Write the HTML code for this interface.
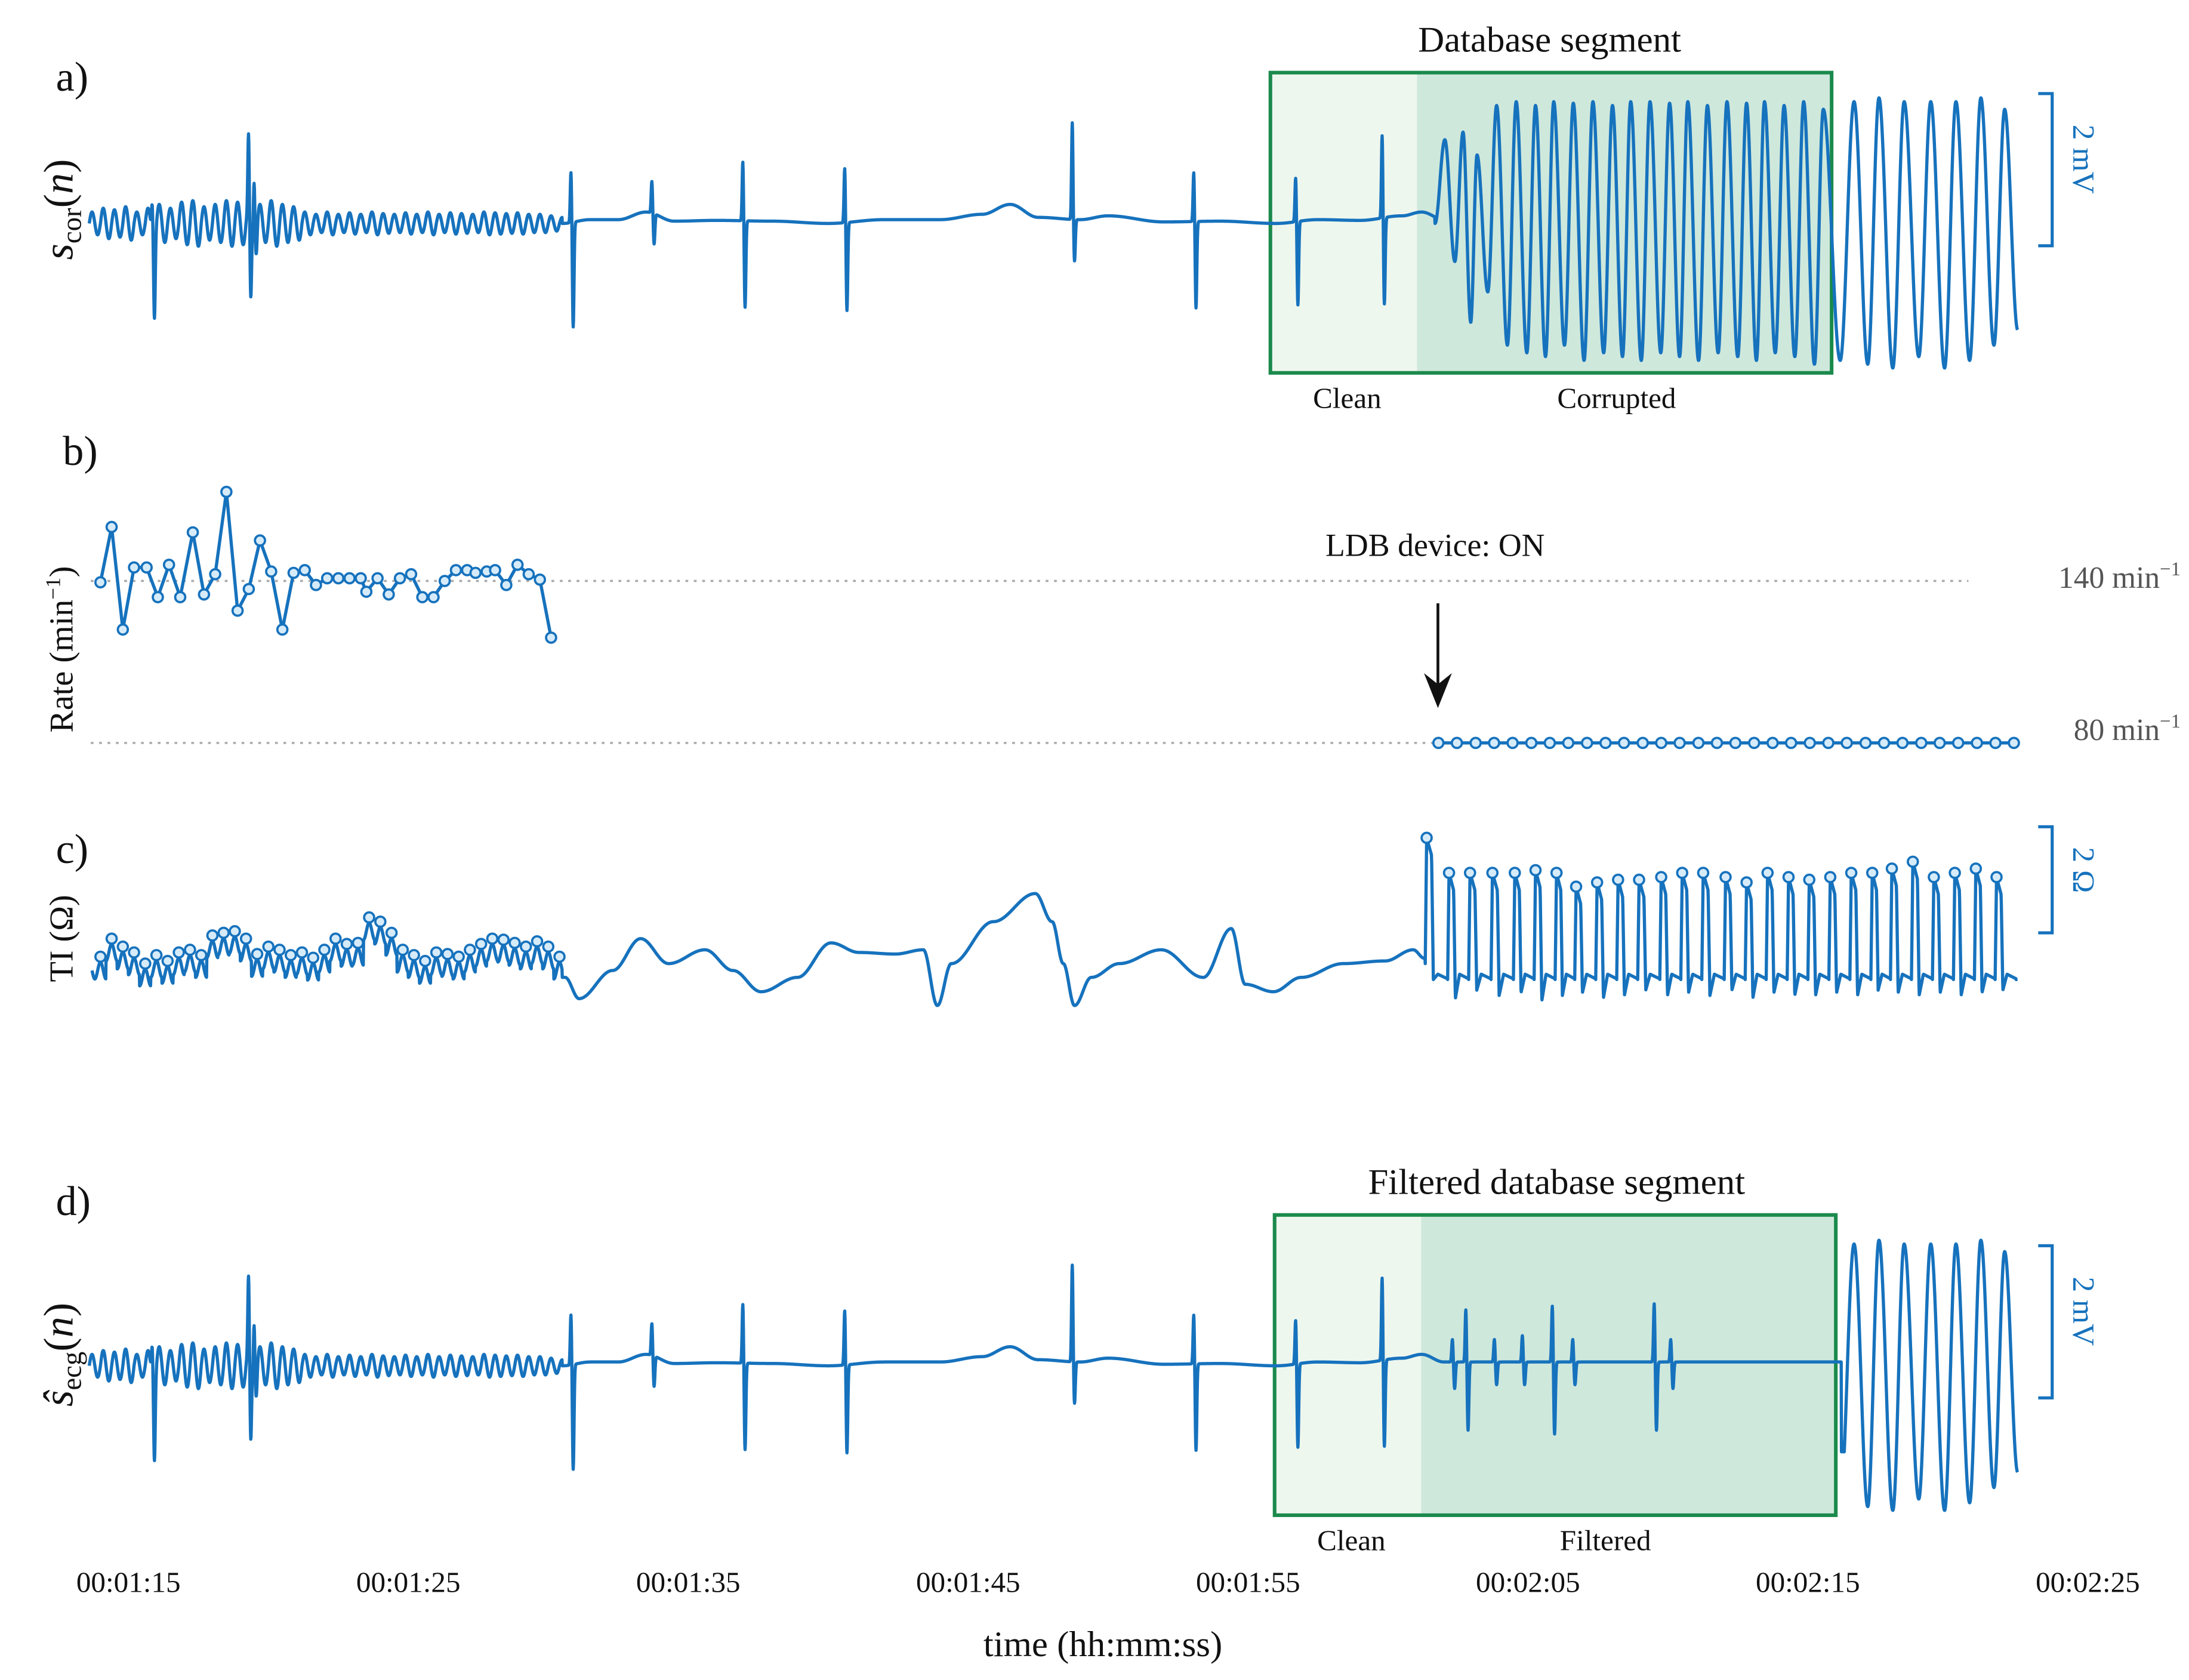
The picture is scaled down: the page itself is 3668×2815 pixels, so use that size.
<!DOCTYPE html>
<html><head><meta charset="utf-8">
<style>
html,body{margin:0;padding:0;background:#fff;}
svg{display:block;}
text{font-family:"Liberation Serif",serif;fill:#111;}
</style></head>
<body>
<svg id="chart" width="3668" height="2815" viewBox="0 0 1568 1203" preserveAspectRatio="none" xmlns="http://www.w3.org/2000/svg">
  <g>
    <rect x="910" y="52" width="105" height="215" fill="#eef7ee"/>
    <rect x="1015" y="52" width="297" height="215" fill="#cfe8dc"/>
    <rect x="910" y="52" width="402" height="215" fill="none" stroke="#1b8a4c" stroke-width="2.6"/>
  </g>
  <g>
    <rect x="913" y="870" width="105" height="215" fill="#eef7ee"/>
    <rect x="1018" y="870" width="297" height="215" fill="#cfe8dc"/>
    <rect x="913" y="870" width="402" height="215" fill="none" stroke="#1b8a4c" stroke-width="2.6"/>
  </g>
  <g id="plots"></g>
  <line x1="65" y1="416" x2="1410" y2="416" stroke="#aaa" stroke-width="1.5" stroke-dasharray="2,4"/>
  <line x1="65" y1="532" x2="1440" y2="532" stroke="#aaa" stroke-width="1.5" stroke-dasharray="2,4"/>
  <g id="ratePlot"></g>
  <g stroke="#1672bd" stroke-width="2.2" fill="none">
    <path d="M1460 67 H1470 V176 H1460"/>
  </g>
  <text x="1478" y="121" font-size="22" style="fill:#1672bd" transform="rotate(90 1485 121)" text-anchor="middle">2 mV</text>
  <g stroke="#1672bd" stroke-width="2.2" fill="none">
    <path d="M1460 592 H1470 V668 H1460"/>
  </g>
  <text x="1478" y="630" font-size="22" style="fill:#1672bd" transform="rotate(90 1485 630)" text-anchor="middle">2 Ω</text>
  <g stroke="#1672bd" stroke-width="2.2" fill="none">
    <path d="M1460 892 H1470 V1001 H1460"/>
  </g>
  <text x="1478" y="946" font-size="22" style="fill:#1672bd" transform="rotate(90 1485 946)" text-anchor="middle">2 mV</text>
  <text x="40" y="65" font-size="30">a)</text>
  <text x="45" y="333" font-size="30">b)</text>
  <text x="40" y="618" font-size="30">c)</text>
  <text x="40" y="870" font-size="30">d)</text>
  <text transform="translate(52 150) rotate(-90)" text-anchor="middle" font-size="30" font-style="italic">s<tspan font-size="20" font-style="normal" dy="6">cor</tspan><tspan dy="-6" font-style="normal">(</tspan>n<tspan font-style="normal">)</tspan></text>
  <text transform="translate(52 465) rotate(-90)" text-anchor="middle" font-size="24">Rate (min<tspan font-size="15" dy="-9">−1</tspan><tspan dy="9">)</tspan></text>
  <text transform="translate(52 672) rotate(-90)" text-anchor="middle" font-size="24">TI (Ω)</text>
  <text transform="translate(52 970) rotate(-90)" text-anchor="middle" font-size="30" font-style="italic">ŝ<tspan font-size="20" font-style="normal" dy="6">ecg</tspan><tspan dy="-6" font-style="normal">(</tspan>n<tspan font-style="normal">)</tspan></text>
  <text x="1110" y="37" font-size="26" text-anchor="middle">Database segment</text>
  <text x="965" y="292" font-size="21" text-anchor="middle">Clean</text>
  <text x="1158" y="292" font-size="21" text-anchor="middle">Corrupted</text>
  <text x="1028" y="398" font-size="23" text-anchor="middle">LDB device: ON</text>
  <g>
    <line x1="1030" y1="432" x2="1030" y2="495" stroke="#111" stroke-width="2"/>
    <path d="M1020 482 L1030 507 L1040 482 L1030 490 Z" fill="#111"/>
  </g>
  <text x="1562" y="421" font-size="22" text-anchor="end" style="fill:#555">140 min<tspan font-size="14" dy="-9">−1</tspan></text>
  <text x="1562" y="530" font-size="22" text-anchor="end" style="fill:#555">80 min<tspan font-size="14" dy="-9">−1</tspan></text>
  <text x="1115" y="855" font-size="26" text-anchor="middle">Filtered database segment</text>
  <text x="968" y="1110" font-size="21" text-anchor="middle">Clean</text>
  <text x="1150" y="1110" font-size="21" text-anchor="middle">Filtered</text>
  <g id="xticks"></g>
  <text x="790" y="1186" font-size="26" text-anchor="middle">time (hh:mm:ss)</text>
</svg>
<script>
const tickTimes = [75, 85, 95, 105, 115, 125, 135, 145];
const tickLabels = ["00:01:15","00:01:25","00:01:35","00:01:45","00:01:55","00:02:05","00:02:15","00:02:25"];

const rateT1 = [74.0,74.4,74.8,75.2,75.65,76.05,76.45,76.85,77.3,77.7,78.1,78.5,78.9,79.3,79.7,80.1,80.5,80.9,81.3,81.7,82.1,82.5,82.9,83.3,83.5,83.9,84.3,84.7,85.1,85.5,85.9,86.3,86.7,87.1,87.4,87.8,88.1,88.5,88.9,89.3,89.7,90.1];
const rateV1 = [139.5,160,122,145,145,134,146,134,158,135,142.5,173,129,137,155,143.5,122,143,144,138.5,141,141,141,141,136,141,135,141,142.5,134,134,140,144,144,143,143.5,144,138.5,146,142.5,140.5,119];
const rateT2 = [121.8,122.46,123.13,123.79,124.45,125.12,125.78,126.44,127.11,127.77,128.43,129.1,129.76,130.42,131.09,131.75,132.41,133.08,133.74,134.4,135.07,135.73,136.39,137.06,137.72,138.38,139.05,139.71,140.37,141.04,141.7,142.36];
const rateV2 = [80,80,80,80,80,80,80,80,80,80,80,80,80,80,80,80,80,80,80,80,80,80,80,80,80,80,80,80,80,80,80,80];

const fibAmp = [0.15,0.2,0.18,0.22,0.15,0.2,0.25,0.2,0.28,0.3,0.22,0.25,0.3,0.28,0.22,0.25,0.3,0.25,0.22,0.15,0.12,0.15,0.12,0.14,0.12,0.15,0.13,0.12,0.14,0.12,0.15,0.12,0.14,0.13,0.12,0.15,0.14,0.13,0.14,0.12,0.12,0.1,0.08];
const wanderT = [73.6,75,77,79,81,83,85,87,89,90.5,91.5,92.5,93.5,94.5,96,98,100,102,104,105.5,106.5,107.5,109,110,112,114,116,117.5,119,120.5,121.2,122,140,144];
const wanderV = [0,0,0,0,0,0,0,0,0,0,0.05,0.05,0.15,0.03,0.04,0.03,0,0.05,0.05,0.12,0.25,0.08,0.05,0.1,0.02,0.03,0,0.05,0.04,0.1,0.15,0.05,0.05,0.05];
const beatT = [75.85,79.29,79.49,90.81,93.7,96.95,100.59,108.72,113.06,116.7,119.79];
const beatUp = [0.4,0.98,0.75,0.68,0.42,0.79,0.73,1.28,0.66,0.59,1.1];
const beatDn = [-1.07,-1.07,-0.3,-1.38,-0.4,-1.14,-1.16,-0.55,-1.14,-1.1,-1.14];
const vtT = [122.03,122.68,123.18,123.88,124.58,125.27,125.92,126.62,127.32,128.02,128.67,129.36,130.06,130.71,131.41,132.11,132.81,133.45,134.15,134.85,135.55,136.65,137.54,138.44,139.39,140.29,141.18,142.03];
const vtPeak = [1.1,1.2,0.9,1.55,1.6,1.55,1.6,1.58,1.6,1.55,1.6,1.6,1.58,1.6,1.55,1.6,1.58,1.6,1.55,1.6,1.5,1.6,1.65,1.6,1.6,1.6,1.65,1.5];
const vtTrough = [-0.5,-1.3,-0.9,-1.6,-1.7,-1.75,-1.6,-1.8,-1.7,-1.75,-1.8,-1.7,-1.75,-1.8,-1.7,-1.75,-1.8,-1.7,-1.75,-1.85,-1.8,-1.85,-1.9,-1.75,-1.9,-1.8,-1.6,-1.4];
const filtT = [122.3,122.78,123.8,124.8,125.87,126.6,129.51,130.1];
const filtUp = [0.3,0.7,0.3,0.35,0.75,0.3,0.78,0.3];
const filtDn = [-0.35,-0.9,-0.3,-0.3,-0.95,-0.3,-0.9,-0.35];

const tiPeakT1 = [74.0,74.4,74.8,75.2,75.6,76.0,76.4,76.8,77.2,77.6,78.0,78.4,78.8,79.2,79.6,80.0,80.4,80.8,81.2,81.6,82.0,82.4,82.8,83.2,83.6,84.0,84.4,84.8,85.2,85.6,86.0,86.4,86.8,87.2,87.6,88.0,88.4,88.8,89.2,89.6,90.0,90.4];
const tiPeakV1 = [0.13,0.47,0.32,0.21,0,0.16,0.05,0.21,0.26,0.16,0.53,0.58,0.61,0.47,0.18,0.32,0.26,0.16,0.21,0.11,0.26,0.47,0.37,0.39,0.87,0.79,0.58,0.26,0.16,0.05,0.21,0.18,0.13,0.26,0.37,0.47,0.45,0.39,0.32,0.42,0.32,0.13];
const tiWT = [90.6,91.1,92.3,93.3,94.3,95.6,96.6,97.6,98.9,100.1,101.1,102.4,103.4,103.9,104.4,105.9,107.4,108.0,108.4,108.8,109.4,110.4,111.9,113.4,114.4,114.9,115.9,116.9,118.4,119.9,120.9,121.3];
const tiWV = [-0.26,-0.66,-0.13,0.47,0,0.26,-0.13,-0.53,-0.26,0.39,0.21,0.18,0.26,-0.79,0,0.79,1.32,0.79,0,-0.79,-0.26,0,0.26,-0.26,0.66,-0.39,-0.53,-0.26,0,0.05,0.26,0.1];
const tiPulseT = [121.38,122.18,122.93,123.73,124.53,125.27,126.02,126.72,127.47,128.22,128.97,129.76,130.51,131.26,132.06,132.81,133.56,134.31,135.05,135.80,136.55,137.30,138.00,138.75,139.50,140.25,141.00,141.74];
const tiPulseV = [2.37,1.71,1.71,1.71,1.71,1.76,1.71,1.45,1.53,1.58,1.58,1.63,1.71,1.71,1.63,1.53,1.71,1.63,1.58,1.63,1.71,1.71,1.79,1.92,1.63,1.71,1.79,1.63];
const tiTrough = [-0.3,-0.66,-0.5,-0.6,-0.55,-0.7,-0.6,-0.55,-0.65,-0.6,-0.5,-0.6,-0.55,-0.6,-0.5,-0.65,-0.55,-0.6,-0.6,-0.55,-0.6,-0.5,-0.55,-0.6,-0.55,-0.6,-0.55,-0.5];

const X = t => 92 + (t - 75) * 20.05;
const Ya = v => 160 - v * 54.5;
const Yd = v => 978 - v * 54.5;
const Yb = r => 416 + (140 - r) * 1.933;
const Yc = v => 690 - v * 38;
const BLUE = "#1672bd";
const NS = "http://www.w3.org/2000/svg";

function interp(T, V, t) {
  if (t <= T[0]) return V[0];
  for (let i = 0; i < T.length - 1; i++) {
    if (t < T[i + 1]) {
      const f = (t - T[i]) / (T[i + 1] - T[i]);
      const g = (1 - Math.cos(Math.PI * f)) / 2;
      return V[i] + (V[i + 1] - V[i]) * g;
    }
  }
  return V[V.length - 1];
}
function spikes(T, U, D, t) {
  let v = 0;
  for (let i = 0; i < T.length; i++) {
    const d = t - T[i];
    if (Math.abs(d) < 0.3) {
      v += U[i] * Math.exp(-Math.pow(d / 0.035, 2)) + D[i] * Math.exp(-Math.pow((d - 0.08) / 0.04, 2));
    }
  }
  return v;
}
function vt(t) {
  if (t < vtT[0]) {
    const f = (t - (vtT[0] - 0.35)) / 0.35;
    return vtPeak[0] * (1 - Math.cos(Math.PI * f)) / 2;
  }
  for (let i = 0; i < vtT.length; i++) {
    const t0 = vtT[i], t1 = i < vtT.length - 1 ? vtT[i + 1] : vtT[i] + 0.85;
    if (t < t1) {
      const f = (t - t0) / (t1 - t0);
      const nextP = i < vtT.length - 1 ? vtPeak[i + 1] : 0.2;
      if (f < 0.55) { const g = (1 - Math.cos(Math.PI * f / 0.55)) / 2; return vtPeak[i] + (vtTrough[i] - vtPeak[i]) * g; }
      const g = (1 - Math.cos(Math.PI * (f - 0.55) / 0.45)) / 2; return vtTrough[i] + (nextP - vtTrough[i]) * g;
    }
  }
  return 0;
}
function ecg(t, filtered) {
  const vtStart = vtT[0] - 0.35;
  if (t >= vtStart && !filtered) return vt(t);
  if (filtered && t >= 136.2) return vt(Math.max(t, 136.3));
  let v = interp(wanderT, wanderV, t);
  if (t < 90.5) {
    const k = Math.min(fibAmp.length - 1, Math.floor((t - 73.6) / 0.4));
    v += fibAmp[k] * Math.sin(2 * Math.PI * (t - 73.6) / 0.4);
  }
  v += spikes(beatT, beatUp, beatDn, t);
  if (filtered) v += spikes(filtT, filtUp, filtDn, t);
  return v;
}
function ti(t) {
  if (t < 90.5) {
    const k = Math.max(0, Math.min(tiPeakT1.length - 1, Math.round((t - 74.0) / 0.4)));
    const ph = (t - 74.0) / 0.4 - Math.round((t - 74.0) / 0.4);
    return tiPeakV1[k] - 0.32 * (1 - Math.cos(2 * Math.PI * ph)) / 2 - 0.1;
  }
  if (t < tiPulseT[0] - 0.05) return interp(tiWT, tiWV, t);
  for (let i = 0; i < tiPulseT.length; i++) {
    const t0 = tiPulseT[i], t1 = i < tiPulseT.length - 1 ? tiPulseT[i + 1] : t0 + 0.75;
    if (t < t1 - 0.05) {
      const f = (t - t0) / (t1 - t0);
      if (f < 0) return tiPulseV[i] * (t - (t0 - 0.05)) / 0.05;
      if (f < 0.22) return tiPulseV[i] - f * 1.5;
      if (f < 0.3) return tiPulseV[i] - 0.33 + (tiTrough[i] - tiPulseV[i] + 0.33) * (f - 0.22) / 0.08;
      if (f < 0.5) return tiTrough[i] + (-0.2 - tiTrough[i]) * (f - 0.3) / 0.2;
      return -0.2 - (f - 0.5) * 0.2;
    }
    if (t < t1) {
      const np = i < tiPulseT.length - 1 ? tiPulseV[i + 1] : -0.3;
      return -0.3 + (np + 0.3) * (t - (t1 - 0.05)) / 0.05;
    }
  }
  return -0.3;
}

const plots = document.getElementById("plots");
function drawLine(fn, Y, t0, t1, name) {
  let d = "";
  for (let t = t0; t <= t1; t += 0.01) d += (d ? "L" : "M") + X(t).toFixed(2) + " " + Y(fn(t)).toFixed(2);
  const p = document.createElementNS(NS, "path");
  p.setAttribute("d", d);
  p.setAttribute("fill", "none");
  p.setAttribute("stroke", BLUE);
  p.setAttribute("stroke-width", "2.3");
  p.setAttribute("stroke-linejoin", "round");
  
  
  plots.appendChild(p);
}
drawLine(t => ecg(t, false), Ya, 73.6, 142.5, "ecg-corrupted-trace");
drawLine(ti, Yc, 73.7, 142.5, "ti-trace");
drawLine(t => ecg(t, true), Yd, 73.6, 142.5, "ecg-filtered-trace");

function markers(T, V, Y, name, parent) {
  for (let i = 0; i < T.length; i++) {
    const c = document.createElementNS(NS, "circle");
    c.setAttribute("cx", X(T[i]));
    c.setAttribute("cy", Y(V[i]));
    c.setAttribute("r", "3.6");
    c.setAttribute("fill", "#d6ebf9");
    c.setAttribute("stroke", BLUE);
    c.setAttribute("stroke-width", "1.6");
    
    
    parent.appendChild(c);
  }
}
markers(tiPeakT1, tiPeakV1, Yc, "ti-peak-marker", plots);
markers(tiPulseT, tiPulseV, Yc, "ti-pulse-marker", plots);

const rp = document.getElementById("ratePlot");
function rateLine(T, V, name) {
  let d = "";
  for (let i = 0; i < T.length; i++) d += (i ? "L" : "M") + X(T[i]).toFixed(2) + " " + Yb(V[i]).toFixed(2);
  const p = document.createElementNS(NS, "path");
  p.setAttribute("d", d);
  p.setAttribute("fill", "none");
  p.setAttribute("stroke", BLUE);
  p.setAttribute("stroke-width", "2.3");
  
  
  rp.appendChild(p);
  markers(T, V, Yb, name + "-point", rp);
}
rateLine(rateT1, rateV1, "rate-series-pre");
rateLine(rateT2, rateV2, "rate-series-paced");

const xt = document.getElementById("xticks");
for (let i = 0; i < tickTimes.length; i++) {
  const tx = document.createElementNS(NS, "text");
  tx.setAttribute("x", X(tickTimes[i]));
  tx.setAttribute("y", "1140");
  tx.setAttribute("font-size", "21");
  tx.setAttribute("text-anchor", "middle");
  
  
  tx.textContent = tickLabels[i];
  xt.appendChild(tx);
}
</script>
</body></html>
